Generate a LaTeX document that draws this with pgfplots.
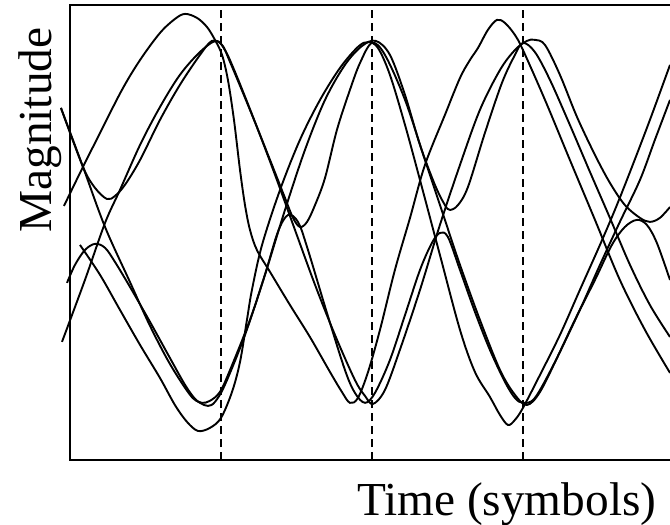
\documentclass[border=0pt]{standalone}
\usepackage{pgfplots}
\pgfplotsset{compat=1.18}
\usepackage{fontspec}
\setmainfont{Liberation Serif}

\begin{document}
\begin{tikzpicture}
\begin{axis}[
  name=ax,
  scale only axis,
  width=600bp, height=455bp,
  xmin=0, xmax=3.974,
  ymin=-1.309, ymax=1.198,
  xtick={1,2,3}, xticklabels={},
  ytick=\empty,
  major tick length=0pt,
  xmajorgrids,
  grid style={black, line width=1.6bp, dash pattern=on 8bp off 5bp},
  axis line style={draw=none},
  clip=false,
  trace/.style={black, line width=1.9bp, smooth, tension=0.55},
]
% symbol-spaced eye traces
\addplot[trace] coordinates {
(-0.040,0.091) (0.086,0.306) (0.199,0.493) (0.344,0.730) (0.464,0.895)
(0.596,1.044) (0.695,1.121) (0.762,1.149) (0.841,1.127) (0.907,1.077)
(0.960,1.006) (1.007,0.923) (1.046,0.785) (1.086,0.565) (1.126,0.289)
(1.159,0.096) (1.192,-0.041) (1.238,-0.152) (1.325,-0.273) (1.457,-0.455)
(1.589,-0.631) (1.722,-0.824) (1.801,-0.934) (1.854,-0.994) (1.907,-0.967)
(1.974,-0.824) (2.053,-0.592) (2.152,-0.262) (2.252,0.025) (2.351,0.317)
(2.483,0.592) (2.583,0.796) (2.649,0.895) (2.702,0.961) (2.768,1.061)
(2.828,1.116) (2.881,1.099) (2.947,1.033) (3.000,0.950) (3.146,0.675)
(3.311,0.344) (3.477,0.014) (3.642,-0.317) (3.808,-0.592) (3.974,-0.829)
};
\addplot[trace] coordinates {
(0.066,-0.124) (0.199,-0.289) (0.331,-0.482) (0.464,-0.675) (0.596,-0.857)
(0.695,-1.006) (0.775,-1.099) (0.848,-1.149) (0.927,-1.132) (1.000,-1.077)
(1.073,-0.934) (1.126,-0.769) (1.172,-0.537) (1.205,-0.372) (1.272,-0.124)
(1.391,0.179) (1.523,0.455) (1.656,0.675) (1.788,0.851) (1.907,0.967)
(1.974,0.994) (2.040,0.961) (2.119,0.813) (2.219,0.537) (2.318,0.234)
(2.450,-0.179) (2.583,-0.592) (2.682,-0.824) (2.781,-0.961) (2.848,-1.061)
(2.901,-1.116) (2.947,-1.088) (3.000,-1.022) (3.113,-0.840) (3.245,-0.620)
(3.377,-0.372) (3.510,-0.124) (3.609,0.069) (3.709,0.278) (3.841,0.565)
(3.974,0.868)
};
\addplot[trace] coordinates {
(-0.060,0.631) (0.086,0.306) (0.232,-0.025) (0.397,-0.328) (0.530,-0.570)
(0.662,-0.780) (0.795,-0.950) (0.861,-0.994) (0.914,-1.011) (0.960,-0.989)
(1.026,-0.895) (1.159,-0.620) (1.291,-0.289) (1.424,0.069) (1.556,0.399)
(1.689,0.675) (1.821,0.868) (1.934,0.972) (2.026,1.000) (2.119,0.923)
(2.219,0.702) (2.318,0.427) (2.417,0.207) (2.483,0.096) (2.517,0.069)
(2.570,0.096) (2.636,0.196) (2.748,0.493) (2.861,0.769) (2.947,0.923)
(3.000,0.989) (3.079,0.939) (3.179,0.785) (3.311,0.537) (3.444,0.278)
(3.576,0.025) (3.709,-0.234) (3.841,-0.455) (3.974,-0.631)
};
\addplot[trace] coordinates {
(-0.060,0.631) (0.086,0.306) (0.166,0.190) (0.245,0.129) (0.298,0.146)
(0.364,0.207) (0.464,0.344) (0.596,0.565) (0.728,0.758) (0.861,0.923)
(0.940,1.000) (1.007,0.978) (1.060,0.884) (1.192,0.620) (1.325,0.344)
(1.424,0.135) (1.477,0.025) (1.523,-0.025) (1.570,0.003) (1.623,0.096)
(1.689,0.245) (1.768,0.510) (1.854,0.730) (1.921,0.879) (2.000,0.989)
(2.086,0.923) (2.219,0.675) (2.351,0.344) (2.483,0.014) (2.583,-0.234)
(2.715,-0.537) (2.848,-0.813) (2.947,-0.950) (3.026,-1.006) (3.113,-0.934)
(3.245,-0.713) (3.377,-0.482) (3.510,-0.234) (3.642,0.003) (3.775,0.234)
(3.874,0.455) (3.974,0.675)
};
\addplot[trace] coordinates {
(-0.053,-0.658) (0.099,-0.317) (0.232,-0.003) (0.331,0.179) (0.464,0.427)
(0.596,0.636) (0.728,0.813) (0.861,0.939) (0.967,1.000) (1.026,0.950)
(1.093,0.829) (1.225,0.554) (1.358,0.262) (1.490,-0.041) (1.623,-0.344)
(1.755,-0.620) (1.887,-0.868) (1.954,-0.956) (2.007,-1.000) (2.086,-0.923)
(2.185,-0.702) (2.318,-0.372) (2.450,-0.014) (2.583,0.317) (2.715,0.620)
(2.848,0.840) (2.947,0.950) (3.026,1.000) (3.079,1.006) (3.146,0.978)
(3.245,0.813) (3.358,0.581) (3.477,0.372) (3.576,0.218) (3.675,0.096)
(3.775,0.025) (3.841,0.003) (3.907,0.025) (3.974,0.085)
};
\addplot[trace] coordinates {
(-0.020,-0.333) (0.033,-0.234) (0.099,-0.152) (0.166,-0.118) (0.232,-0.140)
(0.298,-0.218) (0.397,-0.355) (0.530,-0.548) (0.662,-0.747) (0.762,-0.895)
(0.828,-0.972) (0.874,-0.994) (0.927,-0.983) (0.993,-0.934) (1.060,-0.813)
(1.192,-0.537) (1.291,-0.289) (1.377,-0.052) (1.444,0.041) (1.510,0.003)
(1.570,-0.135) (1.702,-0.499) (1.821,-0.813) (1.887,-0.939) (1.954,-0.994)
(2.020,-0.939) (2.119,-0.758) (2.219,-0.510) (2.318,-0.262) (2.397,-0.113)
(2.450,-0.058) (2.503,-0.080) (2.583,-0.262) (2.682,-0.493) (2.781,-0.702)
(2.881,-0.879) (2.947,-0.967) (3.000,-0.994) (3.079,-0.967) (3.212,-0.769)
(3.344,-0.537) (3.477,-0.317) (3.589,-0.124) (3.675,-0.025) (3.755,0.014)
(3.821,-0.014) (3.887,-0.113) (3.974,-0.317)
};
% frame: left, top and bottom sides
\draw[black, line width=2.2bp, line join=miter]
  (rel axis cs:1,1) -- (rel axis cs:0,1) -- (rel axis cs:0,0) -- (rel axis cs:1,0);
% axis titles
\node[rotate=90, anchor=base, font=\fontsize{47.5}{52}\selectfont]
  at (rel axis cs:-0.03,0.725) {Magnitude};
\node[anchor=base, font=\fontsize{47.5}{52}\selectfont]
  at (rel axis cs:0.728,-0.1209) {Time (symbols)};
\end{axis}
\pgfresetboundingbox
\path[use as bounding box] (ax.south west) ++(-70bp,-65bp) rectangle ++(670bp,525bp);
\end{tikzpicture}
\end{document}
